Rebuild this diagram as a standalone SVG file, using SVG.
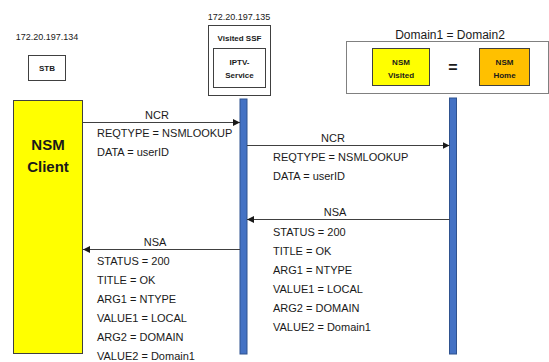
<svg xmlns="http://www.w3.org/2000/svg" width="549" height="362" viewBox="0 0 549 362">
  <defs>
    <marker id="arrow" viewBox="0 0 10 10" refX="10" refY="5" markerWidth="7" markerHeight="7" markerUnits="userSpaceOnUse" orient="auto">
      <path d="M0,0 L10,5 L0,10 z" fill="#1a1a1a"/>
    </marker>
    <style>
      text { font-family: "Liberation Sans", Arial, sans-serif; fill: #1a1a1a; }
      .ip { font-size: 9px; }
      .lbl { font-size: 11px; }
      .small { font-size: 8px; font-weight: bold; }
      .box { fill: #ffffff; stroke: #404040; stroke-width: 1; }
      .life { fill: #4472c4; stroke: #2f528f; stroke-width: 1; }
      .msg { stroke: #404040; stroke-width: 1; fill: none; marker-end: url(#arrow); }
    </style>
  </defs>
  <rect width="549" height="362" fill="#ffffff"/>

  <!-- STB -->
  <g id="stb">
    <text class="ip" x="47" y="40" text-anchor="middle">172.20.197.134</text>
    <rect class="box" x="28.5" y="55.5" width="37" height="25"/>
    <text class="small" x="47" y="71" text-anchor="middle">STB</text>
  </g>

  <!-- Visited SSF with IPTV service -->
  <g id="visited-ssf">
    <text class="ip" x="239" y="20" text-anchor="middle">172.20.197.135</text>
    <rect class="box" x="208.5" y="25.5" width="62" height="70"/>
    <text class="small" x="239.5" y="41" text-anchor="middle">Visited SSF</text>
    <rect class="box" x="213.5" y="48.5" width="52" height="39"/>
    <text class="small" x="239.5" y="65" text-anchor="middle">IPTV-</text>
    <text class="small" x="239.5" y="78" text-anchor="middle">Service</text>
  </g>

  <!-- Domain equality -->
  <g id="domain">
    <text x="450" y="39" text-anchor="middle" style="font-size:12px">Domain1 = Domain2</text>
    <rect x="346.5" y="41.5" width="202" height="52" fill="#ffffff" stroke="#808080" stroke-width="1"/>
    <rect x="372.5" y="48.5" width="57" height="37" fill="#ffff00" stroke="#404040" stroke-width="1"/>
    <text class="small" x="401" y="65" text-anchor="middle">NSM</text>
    <text class="small" x="401" y="78" text-anchor="middle">Visited</text>
    <text x="453" y="73" text-anchor="middle" style="font-size:16px;font-weight:bold">=</text>
    <rect x="479.5" y="48.5" width="50" height="37" fill="#ffc000" stroke="#404040" stroke-width="1"/>
    <text class="small" x="504.5" y="65" text-anchor="middle">NSM</text>
    <text class="small" x="504.5" y="78" text-anchor="middle">Home</text>
  </g>

  <!-- NSM Client -->
  <g id="nsm-client">
    <rect x="13.5" y="100.5" width="69" height="253" fill="#ffff00" stroke="#404040" stroke-width="1"/>
    <text x="48" y="150" text-anchor="middle" style="font-size:15px;font-weight:bold">NSM</text>
    <text x="48" y="172" text-anchor="middle" style="font-size:15px;font-weight:bold">Client</text>
  </g>

  <!-- lifelines -->
  <g id="lifeline-ssf">
    <rect class="life" x="240" y="99" width="7" height="255"/>
  </g>
  <g id="lifeline-nsm">
    <rect class="life" x="449.5" y="98" width="7" height="256"/>
  </g>

  <!-- messages -->
  <g id="connectors">
    <line class="msg" x1="83" y1="122.5" x2="240" y2="122.5"/>
    <line class="msg" x1="247" y1="145.5" x2="449.5" y2="145.5"/>
    <line class="msg" x1="449.5" y1="219.5" x2="247" y2="219.5"/>
    <line class="msg" x1="240" y1="249.5" x2="83" y2="249.5"/>
  </g>

  <!-- message labels -->
  <g id="msg1-label" class="lbl">
    <text class="lbl" x="157" y="119" text-anchor="middle">NCR</text>
    <text class="lbl" x="97" y="137">REQTYPE = NSMLOOKUP</text>
    <text class="lbl" x="97" y="156">DATA = userID</text>
  </g>
  <g id="msg2-label">
    <text class="lbl" x="333" y="142" text-anchor="middle">NCR</text>
    <text class="lbl" x="273" y="161">REQTYPE = NSMLOOKUP</text>
    <text class="lbl" x="273" y="180">DATA = userID</text>
  </g>
  <g id="msg3-label">
    <text class="lbl" x="335" y="216" text-anchor="middle">NSA</text>
    <text class="lbl" x="273" y="236">STATUS = 200</text>
    <text class="lbl" x="273" y="255">TITLE = OK</text>
    <text class="lbl" x="273" y="274">ARG1 = NTYPE</text>
    <text class="lbl" x="273" y="293">VALUE1 = LOCAL</text>
    <text class="lbl" x="273" y="312">ARG2 = DOMAIN</text>
    <text class="lbl" x="273" y="331">VALUE2 = Domain1</text>
  </g>
  <g id="msg4-label">
    <text class="lbl" x="155" y="246" text-anchor="middle">NSA</text>
    <text class="lbl" x="97" y="265">STATUS = 200</text>
    <text class="lbl" x="97" y="284">TITLE = OK</text>
    <text class="lbl" x="97" y="303">ARG1 = NTYPE</text>
    <text class="lbl" x="97" y="322">VALUE1 = LOCAL</text>
    <text class="lbl" x="97" y="341">ARG2 = DOMAIN</text>
    <text class="lbl" x="97" y="360">VALUE2 = Domain1</text>
  </g>
</svg>
